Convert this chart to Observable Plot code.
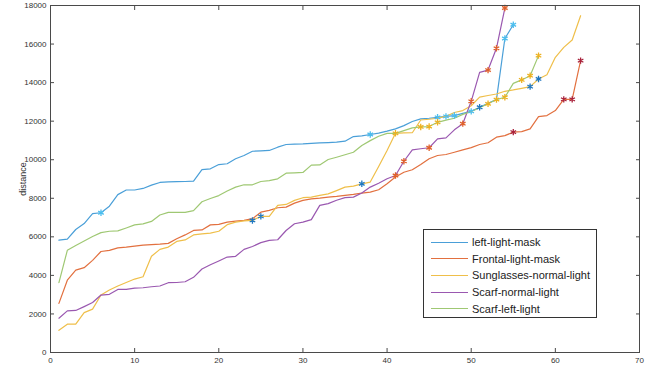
<!DOCTYPE html>
<html>
<head>
<meta charset="utf-8">
<script src="https://cdn.jsdelivr.net/npm/d3@7"></script>
<script src="https://cdn.jsdelivr.net/npm/@observablehq/plot@0.6"></script>
<style>
  body { margin: 0; background: #ffffff; font-family: "Liberation Sans", Arial, sans-serif; }
  #wrap { position: relative; width: 650px; height: 372px; }
  #legend { position: absolute; left: 423px; top: 229px; width: 174px; height: 89px; box-sizing: border-box;
            border: 1px solid #333; background: #fff; padding-top: 4px; }
  .row { display: flex; align-items: center; height: 16.6px; font-size: 11px; color: #222; }
  .sw { width: 37px; height: 0; border-top: 1.5px solid; margin-left: 7px; margin-right: 4px; }
  svg g[aria-label="y-axis label"] text { font-size: 9px; }
</style>
</head>
<body>
<div id="wrap"><div id="chart"></div><div id="legend"></div></div>
<script>
// ---- data ----
const seriesNames = ["left-light-mask", "Frontal-light-mask", "Sunglasses-normal-light", "Scarf-normal-light", "Scarf-left-light"];
const seriesColors = ["#4a9fd8", "#e2703f", "#efbf4a", "#9a58b0", "#9fc873"];

const leftLightMask = [5830, 5880, 6380, 6690, 7200, 7250, 7590, 8190, 8430, 8430, 8510, 8680, 8820, 8855, 8860, 8870, 8890, 9490, 9530, 9750,
  9790, 10050, 10220, 10440, 10460, 10480, 10650, 10790, 10810, 10820, 10850, 10870, 10890, 10910, 10960, 11200, 11240, 11310, 11380, 11480,
  11600, 11770, 11980, 12120, 12150, 12200, 12250, 12290, 12400, 12510, 12720, 12930, 13120, 16290, 17000];
const frontalLightMask = [2550, 3750, 4270, 4400, 4780, 5240, 5300, 5430, 5470, 5520, 5570, 5600, 5620, 5660, 5900, 6100, 6330, 6360, 6620, 6650,
  6760, 6810, 6850, 6940, 7280, 7370, 7510, 7540, 7750, 7890, 7970, 8010, 8060, 8100, 8150, 8200, 8270, 8320, 8440, 8750,
  9100, 9350, 9480, 9750, 10050, 10220, 10270, 10390, 10510, 10630, 10790, 10880, 11170, 11250, 11430, 11460, 11600, 12240, 12290, 12550,
  13130, 13130, 15140];
const sunglassesNormalLight = [1150, 1470, 1470, 2070, 2250, 2980, 3240, 3450, 3630, 3810, 3930, 4990, 5350, 5470, 5760, 5840, 6100, 6150, 6190, 6290,
  6630, 6760, 6830, 6850, 7060, 7060, 7630, 7680, 7890, 8030, 8060, 8150, 8230, 8400, 8580, 8630, 8750, 8840, 9650, 10480,
  11370, 11390, 11400, 12060, 12100, 12150, 12250, 12450, 12550, 12800, 13250, 13330, 13410, 13550, 13620, 13700, 13790, 14190, 14410, 15310,
  15830, 16210, 17470];
const scarfNormalLight = [1780, 2160, 2180, 2380, 2590, 2980, 3020, 3270, 3270, 3340, 3360, 3410, 3450, 3620, 3630, 3670, 3900, 4330, 4550, 4750,
  4950, 4990, 5350, 5500, 5700, 5820, 5850, 6330, 6680, 6760, 6890, 7630, 7720, 7900, 8030, 8060, 8270, 8580, 8780, 9010,
  9180, 9920, 10510, 10570, 10620, 11080, 11130, 11550, 11870, 13030, 14530, 14650, 15780, 17870];
const scarfLeftLight = [3620, 5300, 5550, 5780, 6020, 6220, 6290, 6310, 6460, 6620, 6670, 6800, 7130, 7270, 7270, 7270, 7360, 7820, 7990, 8140,
  8380, 8580, 8700, 8700, 8870, 8920, 9010, 9300, 9320, 9340, 9720, 9730, 10010, 10130, 10260, 10390, 10740, 10990, 11220, 11370,
  11370, 11510, 11650, 11700, 11720, 11940, 12050, 12150, 12350, 12500, 12700, 12900, 13120, 13240, 13960, 14140, 14360, 15400];

// asterisk markers: which series they sit on, at which x, and their colour group
const markerSeries = [0,0,0,0,0,0,0,0, 2,2,2,0,2,2, 2,4,4,4,4,4,4,4,4,4, 3,3,3,3,3,3,3,3, 1,1,1,1];
const markerX      = [6,38,46,47,48,50,54,55, 24,25,37,51,57,58, 41,44,45,46,52,53,54,56,57,58, 41,42,45,49,50,52,53,54, 55,61,62,63];
const markerKind   = ["cyan","cyan","cyan","cyan","cyan","cyan","cyan","cyan",
  "blue","blue","blue","blue","blue","blue",
  "gold","gold","gold","gold","gold","gold","gold","gold","gold","gold",
  "orange","orange","orange","orange","orange","orange","orange","orange",
  "crimson","crimson","crimson","crimson"];
const markerKinds = ["cyan", "blue", "gold", "orange", "crimson"];
const markerColors = ["#4dbeee", "#1f77c0", "#edb120", "#e0602a", "#a8203a"];

const xTicks = [0, 10, 20, 30, 40, 50, 60, 70];
const yTicks = [0, 2000, 4000, 6000, 8000, 10000, 12000, 14000, 16000, 18000];
const yLabel = "distance";

// ---- build ----
const seriesValues = [leftLightMask, frontalLightMask, sunglassesNormalLight, scarfNormalLight, scarfLeftLight];
const rows = seriesValues.flatMap((vals, s) => vals.map((v, i) => ({series: seriesNames[s], x: i + 1, y: v})));
const markers = markerX.map((x, i) => ({x, y: seriesValues[markerSeries[i]][x - 1], kind: markerKind[i]}));

const axisColor = "#4a4a4a";
const chart = Plot.plot({
  width: 650, height: 372,
  marginLeft: 50, marginRight: 11, marginTop: 5, marginBottom: 20,
  x: {domain: [0, 70]},
  y: {domain: [0, 18000]},
  color: {domain: seriesNames, range: seriesColors},
  style: {fontFamily: "Liberation Sans, Arial, sans-serif", fontSize: "8px", color: "#333", background: "transparent"},
  marks: [
    Plot.line(rows, {x: "x", y: "y", z: "series", stroke: "series", strokeWidth: 1.2}),
    ...markerKinds.map((k, j) => Plot.dot(markers.filter(d => d.kind === k),
      {x: "x", y: "y", symbol: "asterisk", r: 3.0, stroke: markerColors[j], strokeWidth: 1.3})),
    Plot.frame({stroke: axisColor, strokeWidth: 1}),
    Plot.axisX({ticks: xTicks, tickSize: -4, tickPadding: 9, stroke: axisColor, label: null, tickFormat: d => String(d)}),
    Plot.axisX({anchor: "top", ticks: xTicks, tickSize: -4, stroke: axisColor, label: null, tickFormat: () => ""}),
    Plot.axisY({ticks: yTicks, tickSize: -4, tickPadding: 8, stroke: axisColor, tickFormat: d => String(d),
      label: yLabel, labelAnchor: "center", labelArrow: "none", labelOffset: 31}),
    Plot.axisY({anchor: "right", ticks: yTicks, tickSize: -4, stroke: axisColor, label: null, tickFormat: () => ""})
  ]
});
document.getElementById("chart").appendChild(chart);

const legend = document.getElementById("legend");
seriesNames.forEach((n, i) => {
  const r = document.createElement("div");
  r.className = "row";
  const sw = document.createElement("span");
  sw.className = "sw";
  sw.style.borderTopColor = seriesColors[i];
  const t = document.createElement("span");
  t.textContent = n;
  r.appendChild(sw); r.appendChild(t);
  legend.appendChild(r);
});
</script>
</body>
</html>
